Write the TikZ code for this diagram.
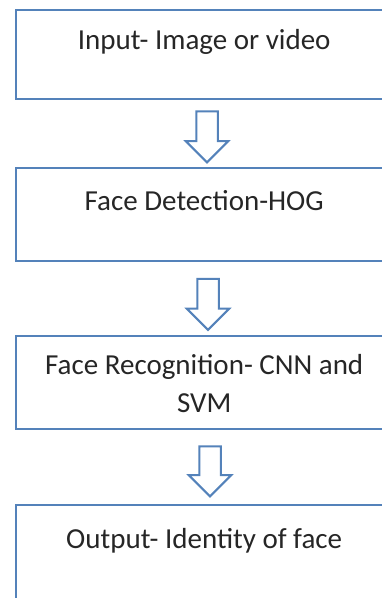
\documentclass[tikz,border=0pt]{standalone}
\usepackage{fontspec}
\setmainfont{Carlito}
\usetikzlibrary{shapes.arrows}
\definecolor{boxblue}{RGB}{84,130,186}
\tikzset{
  stagebox/.style={draw=boxblue, line width=2.4pt, minimum width=376pt, anchor=north west, inner sep=0pt},
  stagetext/.style={anchor=base, align=center, font=\fontsize{29}{38}\selectfont, text=black!85},
  flowarrow/.style={single arrow, draw=boxblue, line width=2pt, fill=white, rotate=-90,
    inner xsep=0pt, inner ysep=9.75pt, minimum height=51pt, single arrow head extend=10.5pt, single arrow tip angle=90}
}

\begin{document}
\begin{tikzpicture}[x=1pt,y=-1pt]
        \useasboundingbox (0,0) rectangle (382,598);
        % boxes
        \node[stagebox, minimum height=89pt] (input) at (15,9)
          [label={[stagetext, yshift=-40pt]north:Input- Image or video}] {};
        \node[stagebox, minimum height=93pt] (detect) at (15,167)
          [label={[stagetext, yshift=-43pt]north:Face Detection-HOG}] {};
        \node[stagebox, minimum height=93pt] (recog) at (15,335)
          [label={[stagetext, yshift=-77pt]north:Face Recognition- CNN and\\SVM}] {};
        \node[stagebox, minimum height=100pt] (output) at (15,504)
          [label={[stagetext, yshift=-44pt]north:Output- Identity of face}] {};
        % arrows
        \node[flowarrow] (a1) at (207,131.5) {};
        \node[flowarrow] (a2) at (208,299) {};
        \node[flowarrow, minimum height=50pt] (a3) at (210,466) {};
\end{tikzpicture}
\end{document}
